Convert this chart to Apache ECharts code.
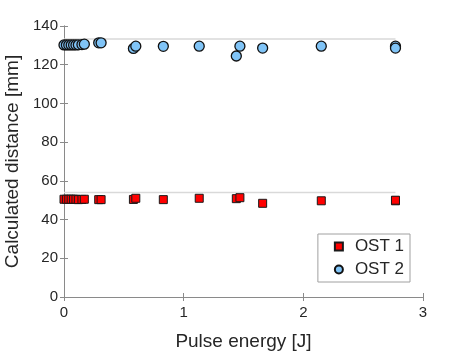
<!DOCTYPE html>
<html>
<head>
<meta charset="utf-8"/>
<title>Calculated distance</title>
<script src="https://cdn.jsdelivr.net/npm/echarts@6/dist/echarts.min.js"></script>
<style>
  html, body { margin: 0; padding: 0; background: #fff; }
  #chart { width: 469px; height: 352px; }
</style>
</head>
<body>
<div id="chart"></div>
<script type="text/javascript">
// pulse energy [J] of every shot
var energy = [0.0, 0.02, 0.04, 0.06, 0.08, 0.10, 0.12, 0.15, 0.17, 0.29, 0.31, 0.58, 0.60, 0.83, 1.13, 1.44, 1.47, 1.66, 2.15, 2.77, 2.77];
var ost1 = [50.5, 50.5, 50.5, 50.5, 50.5, 50.5, 50.3, 50.4, 50.5, 50.3, 50.3, 50.4, 51.0, 50.3, 51.0, 50.8, 51.3, 48.4, 49.7, 49.7, 50.0];
var ost2 = [130.2, 130.2, 130.2, 130.2, 130.2, 130.2, 130.3, 130.4, 130.6, 131.3, 131.3, 128.4, 129.6, 129.5, 129.6, 124.5, 129.6, 128.6, 129.6, 129.6, 128.6];
var refOst1 = [[0, 54.0], [2.77, 54.0]];
var refOst2 = [[0, 133.3], [2.77, 133.3]];
var xTicks = [0, 3, 1];
var yTicks = [0, 140, 20];

function pairs(xs, ys){
  var out = [];
  for (var i = 0; i < xs.length; i++) out.push([xs[i], ys[i]]);
  return out;
}

var txt = '#262626';
var axisCol = '#8a8a8a';
var fnt = 'Liberation Sans, Arial, sans-serif';

var myChart = echarts.init(document.getElementById('chart'));
var option = {
  animation: false,
  textStyle: { fontFamily: fnt },
  grid: { left: 64, right: 46, top: 26, bottom: 55, containLabel: false, outerBoundsMode: 'none' },
  legend: {
    orient: 'vertical',
    right: 59, top: 234,
    data: ['OST 1', 'OST 2'],
    itemWidth: 8, itemHeight: 8, itemGap: 6,
    padding: [4, 6, 4, 16],
    borderColor: '#a0a0a0', borderWidth: 1, borderRadius: 0,
    backgroundColor: '#fff',
    textStyle: { fontSize: 17, color: txt, fontFamily: fnt, padding: [0, 0, 0, 7] }
  },
  xAxis: [
    {
      type: 'value', min: xTicks[0], max: xTicks[1], interval: xTicks[2],
      name: 'Pulse energy [J]', nameLocation: 'middle', nameGap: 35,
      nameTextStyle: { fontSize: 19, color: txt, fontFamily: fnt },
      axisLine: { show: true, lineStyle: { color: axisCol } },
      axisTick: { show: true, inside: true, length: 4, lineStyle: { color: axisCol } },
      axisLabel: { fontSize: 15, color: txt, margin: 8, fontFamily: fnt },
      splitLine: { show: false }
    },
    {
      type: 'value', position: 'top', min: xTicks[0], max: xTicks[1], interval: xTicks[2],
      axisLine: { show: true, lineStyle: { color: axisCol } },
      axisTick: { show: true, inside: true, length: 4, lineStyle: { color: axisCol } },
      axisLabel: { show: false },
      splitLine: { show: false }
    }
  ],
  yAxis: [
    {
      type: 'value', min: yTicks[0], max: yTicks[1], interval: yTicks[2],
      name: 'Calculated distance [mm]', nameLocation: 'middle', nameGap: 37,
      nameTextStyle: { fontSize: 19, color: txt, fontFamily: fnt },
      axisLine: { show: true, lineStyle: { color: axisCol } },
      axisTick: { show: true, inside: true, length: 4, lineStyle: { color: axisCol } },
      axisLabel: { fontSize: 15, color: txt, margin: 6, fontFamily: fnt },
      splitLine: { show: false }
    },
    {
      type: 'value', position: 'right', min: yTicks[0], max: yTicks[1], interval: yTicks[2],
      axisLine: { show: true, lineStyle: { color: axisCol } },
      axisTick: { show: true, inside: true, length: 4, lineStyle: { color: axisCol } },
      axisLabel: { show: false },
      splitLine: { show: false }
    }
  ],
  series: [
    {
      type: 'line', data: refOst1, symbol: 'none', silent: true,
      lineStyle: { color: '#d9d9d9', width: 1.5 }, z: 1
    },
    {
      type: 'line', data: refOst2, symbol: 'none', silent: true,
      lineStyle: { color: '#d9d9d9', width: 1.5 }, z: 1
    },
    {
      name: 'OST 1', type: 'scatter', data: pairs(energy, ost1),
      symbol: 'rect', symbolSize: 8,
      itemStyle: { color: '#ff0000', borderColor: '#1a1a1a', borderWidth: 1, opacity: 1 }, z: 3
    },
    {
      name: 'OST 2', type: 'scatter', data: pairs(energy, ost2),
      symbol: 'circle', symbolSize: 10,
      itemStyle: { color: '#80c4f7', borderColor: '#111', borderWidth: 1.3, opacity: 1 }, z: 3
    }
  ]
};
myChart.setOption(option);
</script>
</body>
</html>
